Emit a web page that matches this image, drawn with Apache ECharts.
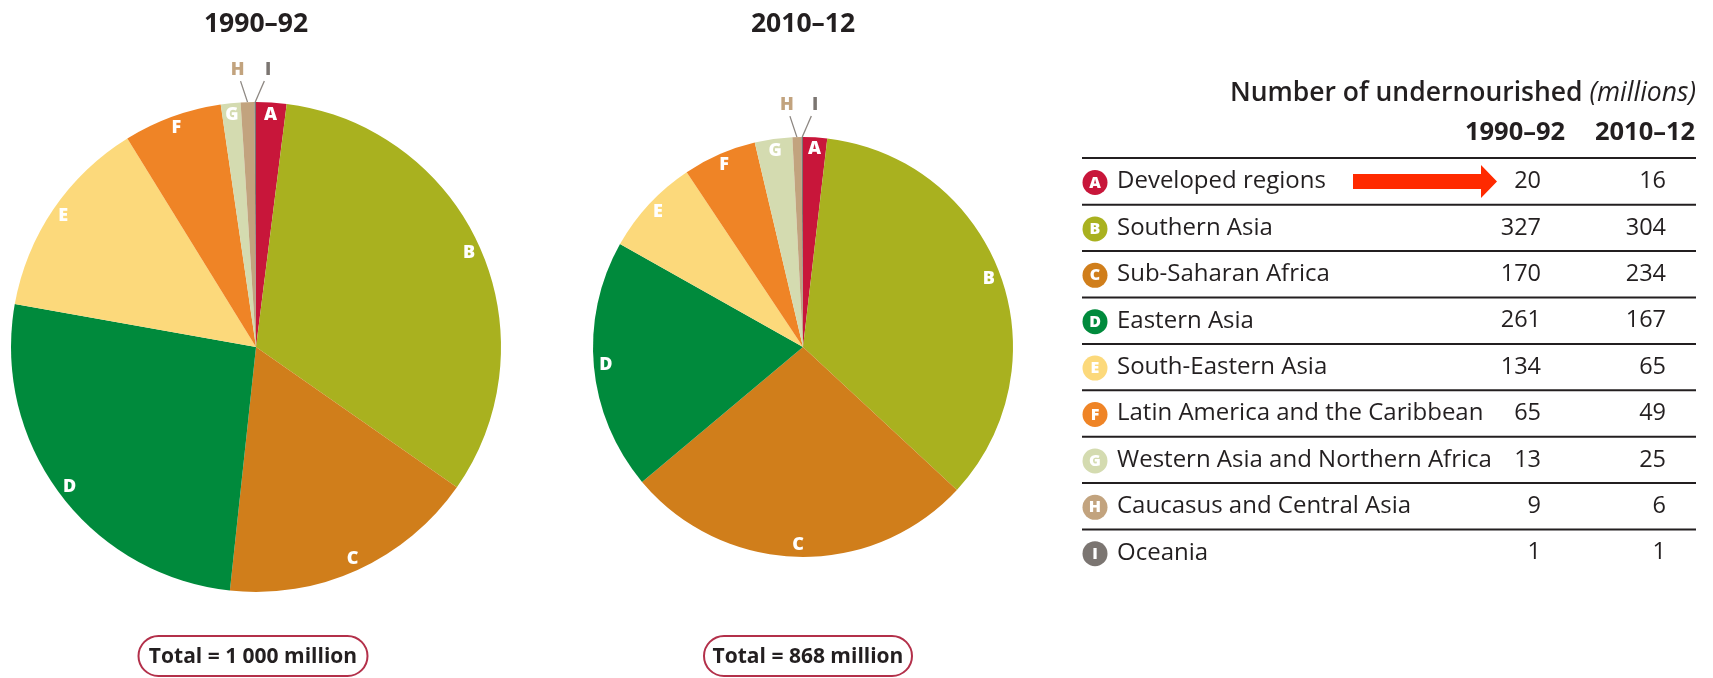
<!DOCTYPE html>
<html>
<head>
<meta charset="utf-8">
<script src="https://cdn.jsdelivr.net/npm/echarts@6/dist/echarts.min.js"></script>
<style>
  html, body { margin: 0; padding: 0; background: #fff; }
  #main { width: 1713px; height: 678px; }
</style>
</head>
<body>
<div id="main"></div>
<script>
// 数据
const letters = ['A', 'B', 'C', 'D', 'E', 'F', 'G', 'H', 'I']
const regions = [
  'Developed regions',
  'Southern Asia',
  'Sub-Saharan Africa',
  'Eastern Asia',
  'South-Eastern Asia',
  'Latin America and the Caribbean',
  'Western Asia and Northern Africa',
  'Caucasus and Central Asia',
  'Oceania'
]
const values1990 = [20, 327, 170, 261, 134, 65, 13, 9, 1]
const values2010 = [16, 304, 234, 167, 65, 49, 25, 6, 1]
const periods = ['1990–92', '2010–12']
const totals = ['Total = 1 000 million', 'Total = 868 million']

// 样式
const colors = ['#c8163a', '#a9b11f', '#d07e1b', '#008a3c', '#fcd97b', '#ef8426', '#d4dbb0', '#c2a37e', '#7b7571']
const FONT = "'Open Sans', sans-serif"
const INK = '#231f20'

const chart = echarts.init(document.getElementById('main'), null, { renderer: 'canvas' })

// 一个年份 = 实心饼 + 透明外环(只用来放字母标签)
function pieSeries (vals, center, r) {
  const data = vals.map((v, i) => ({
    name: letters[i],
    value: v,
    itemStyle: { color: colors[i] }
  }))
  return [
    {
      type: 'pie',
      center: center,
      radius: [0, r],
      startAngle: 90,
      clockwise: true,
      silent: true,
      avoidLabelOverlap: false,
      itemStyle: { borderWidth: 0 },
      data: data.map((d, i) => ({
        ...d,
        label: { show: i >= 7, color: colors[i] },
        labelLine: { show: i >= 7 }
      })),
      label: {
        position: 'outside',
        formatter: '{b}',
        fontFamily: FONT,
        fontWeight: 800,
        fontSize: 18
      },
      labelLine: {
        length: 15,
        length2: 0,
        lineStyle: { color: '#8d8782', width: 1.3 }
      },
      // H / I 标签往上摆成 V 字
      labelLayout (p) {
        const pts = p.labelLinePoints
        if (!pts || p.dataIndex < 7) return {}
        const x0 = pts[0][0]
        const y0 = pts[0][1]
        const dx = p.dataIndex === 7 ? -10 : 13
        return {
          x: x0 + dx,
          y: y0 - 32,
          align: 'center',
          verticalAlign: 'middle',
          labelLinePoints: [[x0, y0], [x0 + dx * 0.7, y0 - 21], [x0 + dx * 0.7, y0 - 21]]
        }
      }
    },
    {
      type: 'pie',
      center: center,
      radius: [r - 30, r],
      startAngle: 90,
      clockwise: true,
      silent: true,
      avoidLabelOverlap: false,
      itemStyle: { color: 'rgba(0,0,0,0)', borderWidth: 0 },
      data: data.map((d, i) => ({
        name: d.name,
        value: d.value,
        label: { show: i < 7 }
      })),
      label: {
        position: 'inside',
        formatter: '{b}',
        color: '#fff',
        fontFamily: FONT,
        fontWeight: 800,
        fontSize: 18
      },
      labelLine: { show: false }
    }
  ]
}

// 右侧表格
const rowY0 = 181.5
const rowH = 46.4
const lineX1 = 1082
const lineX2 = 1696
const graphics = []

graphics.push({
  type: 'text',
  style: {
    text: '{b|Number of undernourished}{i| (millions)}',
    x: lineX2, y: 93,
    textAlign: 'right', textVerticalAlign: 'middle',
    rich: {
      b: { fontFamily: FONT, fontSize: 26.5, fontWeight: 600, fill: INK },
      i: { fontFamily: FONT, fontSize: 26.5, fontStyle: 'italic', fill: INK }
    }
  }
})
const headX = [1515, 1645]
periods.forEach((t, k) => {
  graphics.push({
    type: 'text',
    style: { text: t, x: headX[k], y: 133, textAlign: 'center', textVerticalAlign: 'middle', fontFamily: FONT, fontSize: 25.5, fontWeight: 'bold', fill: INK }
  })
})
graphics.push({ type: 'line', shape: { x1: lineX1, y1: 158, x2: lineX2, y2: 158 }, style: { stroke: INK, lineWidth: 2 } })

regions.forEach((name, i) => {
  const y = rowY0 + i * rowH
  graphics.push({ type: 'circle', shape: { cx: 1095, cy: y + 1, r: 12.5 }, style: { fill: colors[i] } })
  graphics.push({
    type: 'text',
    style: { text: letters[i], x: 1095, y: y + 1.5, textAlign: 'center', textVerticalAlign: 'middle', fontFamily: FONT, fontSize: 16, fontWeight: 800, fill: '#fff' }
  })
  graphics.push({
    type: 'text',
    style: { text: name, x: 1117, y: y, textAlign: 'left', textVerticalAlign: 'middle', fontFamily: FONT, fontSize: 24, fill: INK }
  })
  graphics.push({
    type: 'text',
    style: { text: String(values1990[i]), x: 1541, y: y, textAlign: 'right', textVerticalAlign: 'middle', fontFamily: FONT, fontSize: 23.5, fill: INK }
  })
  graphics.push({
    type: 'text',
    style: { text: String(values2010[i]), x: 1666, y: y, textAlign: 'right', textVerticalAlign: 'middle', fontFamily: FONT, fontSize: 23.5, fill: INK }
  })
  if (i < regions.length - 1) {
    graphics.push({ type: 'line', shape: { x1: lineX1, y1: y + rowH / 2, x2: lineX2, y2: y + rowH / 2 }, style: { stroke: INK, lineWidth: 2 } })
  }
})

// 红色箭头
graphics.push({
  type: 'polygon',
  shape: { points: [[1353, 174], [1481, 174], [1481, 165], [1497, 181.5], [1481, 198], [1481, 189], [1353, 189]] },
  style: { fill: '#ff2a00' }
})

// 饼图标题和合计框
const pieCX = [256, 803]
const boxCX = [253, 808]
const boxW = [229, 208]
periods.forEach((t, k) => {
  graphics.push({
    type: 'text',
    style: { text: t, x: pieCX[k], y: 24, textAlign: 'center', textVerticalAlign: 'middle', fontFamily: FONT, fontSize: 26.5, fontWeight: 'bold', fill: INK }
  })
  graphics.push({
    type: 'rect',
    shape: { x: boxCX[k] - boxW[k] / 2, y: 636, width: boxW[k], height: 40, r: 20 },
    style: { fill: '#fff', stroke: '#b3304a', lineWidth: 2 }
  })
  graphics.push({
    type: 'text',
    style: { text: totals[k], x: boxCX[k], y: 657, textAlign: 'center', textVerticalAlign: 'middle', fontFamily: FONT, fontSize: 21, fontWeight: 'bold', fill: INK }
  })
})

const option = {
  animation: false,
  series: [
    ...pieSeries(values1990, [256, 347], 245),
    ...pieSeries(values2010, [803, 347], 210)
  ],
  graphic: { elements: graphics }
}
chart.setOption(option)
</script>
</body>
</html>
